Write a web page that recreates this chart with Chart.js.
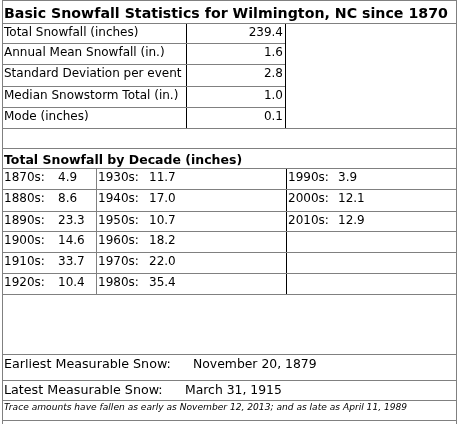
<!DOCTYPE html>
<html>
<head>
<meta charset="utf-8">
<script src="https://cdn.jsdelivr.net/npm/chart.js@4.4.1/dist/chart.umd.min.js"></script>
<style>
  html, body { margin: 0; padding: 0; background: #fff; }
  #wrap { width: 461px; height: 424px; }
</style>
</head>
<body>
<div id="wrap"><canvas id="tbl"></canvas></div>
<script>
// Data
const title = "Basic Snowfall Statistics for Wilmington, NC since 1870";
const statLabels = [
  "Total Snowfall (inches)",
  "Annual Mean Snowfall (in.)",
  "Standard Deviation per event",
  "Median Snowstorm Total (in.)",
  "Mode (inches)",
];
const statValues = [239.4, 1.6, 2.8, 1.0, 0.1];

const decadeTitle = "Total Snowfall by Decade (inches)";
const decades = [
  "1870s", "1880s", "1890s", "1900s", "1910s", "1920s",
  "1930s", "1940s", "1950s", "1960s", "1970s", "1980s",
  "1990s", "2000s", "2010s",
];
const decadeTotals = [
  4.9, 8.6, 23.3, 14.6, 33.7, 10.4,
  11.7, 17.0, 10.7, 18.2, 22.0, 35.4,
  3.9, 12.1, 12.9,
];

const extremeLabels = ["Earliest Measurable Snow:", "Latest Measurable Snow:"];
const extremeDates = ["November 20, 1879", "March 31, 1915"];
const traceNote =
  "Trace amounts have fallen as early as November 12, 2013; and as late as April 11, 1989";

// Layout (pixels in table space)
const W = 461, H = 424;
const leftX = 2, rightX = 456;
const statCols = [186, 285];
const decadeCols = [96, 286];
const statRowTops = [23, 43, 64, 86, 107];
const decadeRowTops = [168, 189, 211, 231, 252, 273];
const fullLines = [0, 23, 128, 148, 168, 189, 211, 231, 252, 273, 294, 354, 380, 400, 420];
const shortLines = [43, 64, 86, 107];
const GRAY = "#808080", BLACK = "#000000";
const FONT = "'DejaVu Sans', Verdana, sans-serif";

// Segmente fuer Tabellenlinien
const segments = [];
fullLines.forEach((y) => segments.push([leftX, y + 0.5, rightX + 1, y + 0.5, GRAY]));
shortLines.forEach((y) => segments.push([leftX, y + 0.5, statCols[1], y + 0.5, GRAY]));
segments.push([leftX + 0.5, 0, leftX + 0.5, H, GRAY]);
segments.push([rightX + 0.5, 0, rightX + 0.5, H, GRAY]);
statCols.forEach((x) => segments.push([x + 0.5, 23, x + 0.5, 128, BLACK]));
segments.push([decadeCols[0] + 0.5, 168, decadeCols[0] + 0.5, 294, GRAY]);
segments.push([decadeCols[1] + 0.5, 168, decadeCols[1] + 0.5, 294, BLACK]);

const datasets = segments.map((s) => ({
  data: [{ x: s[0], y: s[1] }, { x: s[2], y: s[3] }],
  borderColor: s[4],
  borderWidth: 1,
  pointRadius: 0,
  showLine: true,
  fill: false,
  tension: 0,
}));

// Textzellen
const cells = [];
cells.push({ text: title, x: 4, y: 18, font: "bold 14.2px " + FONT });
statLabels.forEach((lbl, i) => {
  cells.push({ text: lbl, x: 4, y: statRowTops[i] + 13, font: "12px " + FONT });
  cells.push({
    text: statValues[i].toFixed(1),
    x: 283,
    y: statRowTops[i] + 13,
    align: "right",
    font: "12px " + FONT,
  });
});
cells.push({ text: decadeTitle, x: 4, y: 164, font: "bold 12.5px " + FONT });
const colStart = [4, 98, 288];
const valOffset = [54, 51, 50];
decades.forEach((d, i) => {
  const col = Math.floor(i / 6);
  const row = i % 6;
  const y = decadeRowTops[row] + 13;
  cells.push({ text: d + ":", x: colStart[col], y: y, font: "12px " + FONT });
  cells.push({
    text: decadeTotals[i].toFixed(1),
    x: colStart[col] + valOffset[col],
    y: y,
    font: "12px " + FONT,
  });
});
const extremeRowBase = [368, 394];
const dateX = [193, 185];
extremeLabels.forEach((lbl, i) => {
  cells.push({ text: lbl, x: 4, y: extremeRowBase[i], font: "12.7px " + FONT });
  cells.push({ text: extremeDates[i], x: dateX[i], y: extremeRowBase[i], font: "12.4px " + FONT });
});
cells.push({ text: traceNote, x: 4, y: 410, font: "italic 9.1px " + FONT });

const tablePlugin = {
  id: "snowTable",
  beforeDraw(chart) {
    const ctx = chart.ctx;
    ctx.save();
    ctx.fillStyle = "#fff";
    ctx.fillRect(0, 0, chart.width, chart.height);
    ctx.restore();
  },
  afterDatasetsDraw(chart) {
    const ctx = chart.ctx;
    const xs = chart.scales.x;
    const ys = chart.scales.y;
    ctx.save();
    ctx.fillStyle = "#000";
    ctx.textBaseline = "alphabetic";
    cells.forEach((c) => {
      ctx.font = c.font;
      ctx.textAlign = c.align || "left";
      ctx.fillText(c.text, xs.getPixelForValue(c.x), ys.getPixelForValue(c.y));
    });
    ctx.restore();
  },
};

new Chart(document.getElementById("tbl"), {
  type: "scatter",
  data: { datasets: datasets },
  options: {
    responsive: true,
    maintainAspectRatio: false,
    animation: false,
    events: [],
    layout: { padding: 0 },
    scales: {
      x: { type: "linear", min: 0, max: W, display: false },
      y: { type: "linear", min: 0, max: H, reverse: true, display: false },
    },
    plugins: {
      legend: { display: false },
      tooltip: { enabled: false },
    },
  },
  plugins: [tablePlugin],
});
</script>
</body>
</html>
